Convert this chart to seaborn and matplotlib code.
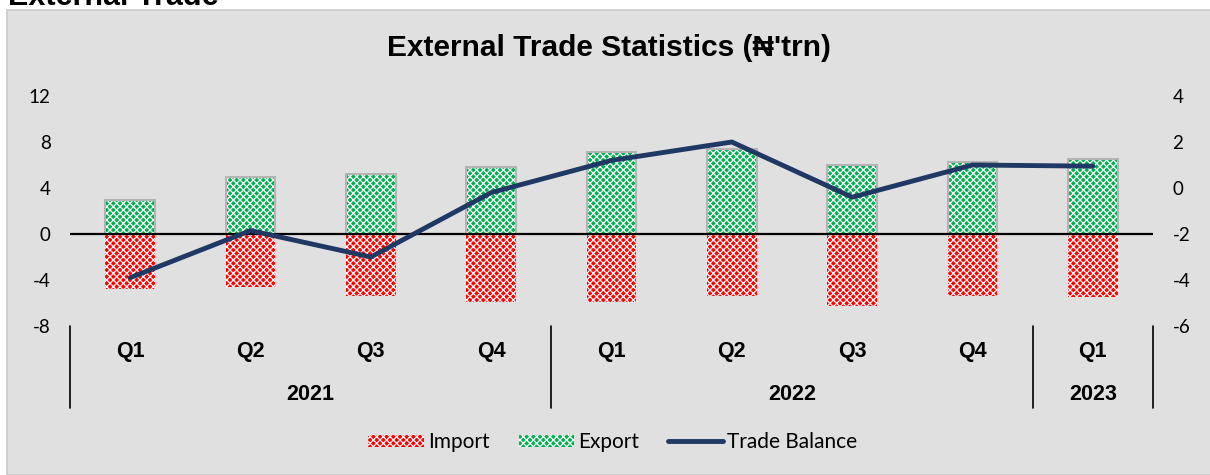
import matplotlib
matplotlib.use("Agg")
import matplotlib.pyplot as plt
from matplotlib.patches import Patch, Rectangle
from matplotlib.lines import Line2D
import matplotlib.transforms as mtransforms
import seaborn as sns
import pandas as pd

# values (N'trn)
periods = ["2021 Q1", "2021 Q2", "2021 Q3", "2021 Q4",
           "2022 Q1", "2022 Q2", "2022 Q3", "2022 Q4", "2023 Q1"]
quarters = ["Q1", "Q2", "Q3", "Q4", "Q1", "Q2", "Q3", "Q4", "Q1"]
years = ["2021", "2022", "2023"]
year_span = [4, 4, 1]
imports = [-4.8, -4.6, -5.4, -5.9, -5.9, -5.4, -6.3, -5.4, -5.5]
exports = [3.0, 5.0, 5.2, 5.8, 7.1, 7.4, 6.0, 6.3, 6.5]
trade_balance = [-3.9, -1.85, -3.0, -0.2, 1.2, 2.0, -0.4, 1.0, 0.95]

RED = "#FF0000"
GREEN = "#00B050"
NAVY = "#203864"
BG = "#E0E0E0"
ARIAL = ["Liberation Sans", "DejaVu Sans"]

sns.set_style("white")
plt.rcParams["font.family"] = ["Lato", "DejaVu Sans"]
plt.rcParams["text.color"] = "black"
plt.rcParams["axes.unicode_minus"] = False
plt.rcParams["hatch.linewidth"] = 0.9
plt.rcParams["hatch.color"] = "white"

df = pd.DataFrame({"period": periods, "import": imports, "export": exports,
                   "balance": trade_balance, "pos": range(len(periods))})

fig = plt.figure(figsize=(12.1, 4.75), dpi=100)
fig.patch.set_facecolor("white")
# grey panel under the chart, cut-off section heading above it
fig.patches.append(Rectangle((7 / 1210, 0), 1, 1 - 10 / 475, transform=fig.transFigure,
                             facecolor=BG, edgecolor="#C8C8C8", lw=1.2, zorder=-10))
fig.text(8 / 1210, 1 - 5 / 475, "External Trade", fontsize=22, fontweight="bold",
         family=ARIAL, va="baseline", ha="left")

ax = fig.add_axes([70 / 1210, 1 - 326 / 475, 1083 / 1210, 230 / 475])
ax.set_facecolor("none")

hatch = "xxxxx"
sns.barplot(data=df, x="period", y="import", color=RED, width=0.41, saturation=1,
            ax=ax, zorder=2)
sns.barplot(data=df, x="period", y="export", color=GREEN, width=0.41, saturation=1,
            ax=ax, zorder=2)
for p in ax.patches:
    p.set_hatch(hatch)
    p.set_edgecolor("white")
    p.set_linewidth(0)
# grey outline around the export bars
sns.barplot(data=df, x="period", y="export", fill=False, color="#B4B4B4", width=0.41,
            linewidth=1.5, ax=ax, zorder=3)

ax.axhline(0, color="black", lw=1.6, zorder=4)
ax.set_ylim(-8, 12)
ax.set_yticks([-8, -4, 0, 4, 8, 12])
ax.set_xlim(-0.5, 8.5)
ax.set_xlabel("")
ax.set_ylabel("")
ax.set_xticks([])
sns.despine(ax=ax, left=True, bottom=True)
ax.tick_params(axis="y", length=0, labelsize=13.5, pad=14, colors="black")

ax2 = ax.twinx()
sns.lineplot(data=df, x="pos", y="balance", color=NAVY, lw=3.5, ax=ax2, zorder=5)
ax2.set_ylim(-6, 4)
ax2.set_yticks([-6, -4, -2, 0, 2, 4])
ax2.set_ylabel("")
ax2.set_xlabel("")
ax2.set_xlim(-0.5, 8.5)
for s in ax2.spines.values():
    s.set_visible(False)
ax2.tick_params(axis="y", length=0, labelsize=13.5, pad=14, colors="black")

# two-level category axis
trans = mtransforms.blended_transform_factory(ax.transData, ax.transAxes)
for i, q in enumerate(quarters):
    ax.text(i, -0.113, q, transform=trans, ha="center", va="center", fontsize=15.5,
            fontweight="bold", family=ARIAL)
start = -0.5
ax.plot([start, start], [0, -0.357], transform=trans, color="black", lw=1.2, clip_on=False)
for y, n in zip(years, year_span):
    ax.text(start + n / 2, -0.30, y, transform=trans, ha="center", va="center",
            fontsize=15.5, fontweight="bold", family=ARIAL)
    start += n
    ax.plot([start, start], [0, -0.357], transform=trans, color="black", lw=1.2,
            clip_on=False)

fig.text(609 / 1210, 1 - 48 / 475, "External Trade Statistics (\u20a6'trn)", ha="center",
         va="center", fontsize=21.5, fontweight="bold", family=ARIAL)

handles = [
    Patch(facecolor=RED, edgecolor="white", hatch=hatch, lw=0, label="Import"),
    Patch(facecolor=GREEN, edgecolor="white", hatch=hatch, lw=0, label="Export"),
    Line2D([], [], color=NAVY, lw=3.5, label="Trade Balance"),
]
fig.legend(handles=handles, loc="center", bbox_to_anchor=(613 / 1210, 1 - 442 / 475),
           ncol=3, frameon=False, fontsize=15, handlelength=2.65, handleheight=0.5,
           handletextpad=0.2, columnspacing=1.4)

fig.savefig("out.png", dpi=100, facecolor=fig.get_facecolor())
